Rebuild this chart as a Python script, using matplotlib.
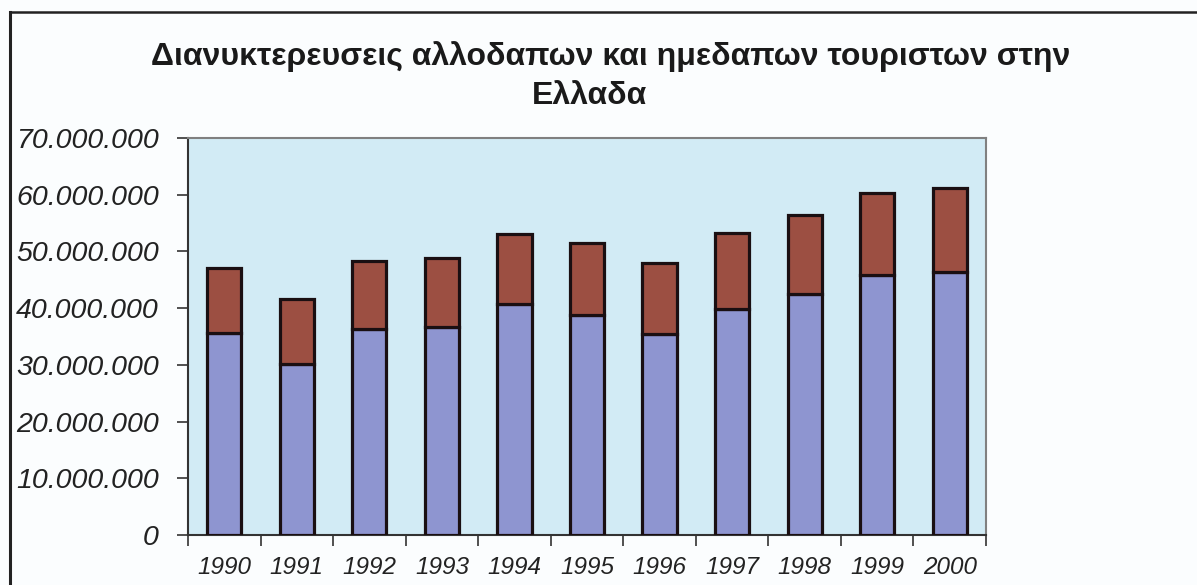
import matplotlib.pyplot as plt
import numpy as np
from matplotlib.ticker import FuncFormatter, FixedLocator

# data (overnight stays, millions)
years = ['1990', '1991', '1992', '1993', '1994', '1995',
         '1996', '1997', '1998', '1999', '2000']
foreign = [35.6, 30.1, 36.4, 36.6, 40.7, 38.8, 35.5, 39.9, 42.5, 45.8, 46.4]
totals = [47.1, 41.6, 48.4, 48.9, 53.1, 51.5, 48.0, 53.3, 56.5, 60.3, 61.2]
domestic = [t - f for t, f in zip(totals, foreign)]

foreign = [v * 1e6 for v in foreign]
domestic = [v * 1e6 for v in domestic]

title1 = 'Διανυκτερευσεις αλλοδαπων και ημεδαπων τουριστων στην'
title2 = 'Ελλαδα'

plt.rcParams['font.family'] = ['Liberation Sans', 'DejaVu Sans']

fig = plt.figure(figsize=(11.97, 5.85), dpi=100, facecolor='#fbfdfe')
ax = fig.add_axes([188 / 1197, 50 / 585, (986 - 188) / 1197, (535 - 138) / 585])
ax.set_facecolor('#d2ebf5')

x = np.arange(len(years))
ax.bar(x, foreign, width=0.47, color='#8e95d0', edgecolor='#1a0f12', linewidth=2.3, zorder=3)
ax.bar(x, domestic, width=0.47, bottom=foreign, color='#9c4f42', edgecolor='#1a0f12',
       linewidth=2.3, zorder=3)

ax.set_xlim(-0.5, len(years) - 0.5)
ax.set_ylim(0, 70e6)
ax.set_yticks(np.arange(0, 70e6 + 1, 10e6))
ax.yaxis.set_major_formatter(FuncFormatter(lambda v, p: f'{int(v):,}'.replace(',', '.')))

# labels at category centres, tick marks at category boundaries
ax.set_xticks(x)
ax.set_xticklabels(years)
ax.xaxis.set_minor_locator(FixedLocator(np.arange(-0.5, len(years), 1.0)))
ax.tick_params(axis='x', which='major', length=0, pad=15)
ax.tick_params(axis='x', which='minor', length=8, width=1.2, color='#333333', direction='out')
ax.tick_params(axis='y', length=8, width=1.2, color='#333333', pad=13)

for lab in ax.get_yticklabels():
    lab.set_fontsize(20.5)
    lab.set_fontstyle('italic')
    lab.set_color('#222222')
for lab in ax.get_xticklabels():
    lab.set_fontsize(17.5)
    lab.set_fontstyle('italic')
    lab.set_color('#222222')

for side in ['top', 'right']:
    ax.spines[side].set_color('#808080')
    ax.spines[side].set_linewidth(1.5)
for side in ['left', 'bottom']:
    ax.spines[side].set_color('#333333')
    ax.spines[side].set_linewidth(1.5)

fig.text(611 / 1197, 1 - 57 / 585, title1, ha='center', va='center', fontsize=23,
         fontweight='bold', color='#1a1a1a')
fig.text(590 / 1197, 1 - 96 / 585, title2, ha='center', va='center', fontsize=23,
         fontweight='bold', color='#1a1a1a')

# outer frame of the scanned chart
fig.add_artist(plt.Line2D([10 / 1197, 10 / 1197], [0, 1 - 12 / 585], color='#222222',
                          linewidth=2.2, transform=fig.transFigure))
fig.add_artist(plt.Line2D([10 / 1197, 1], [1 - 12 / 585, 1 - 12 / 585], color='#222222',
                          linewidth=1.8, transform=fig.transFigure))

fig.savefig('out.png', dpi=100, facecolor=fig.get_facecolor())
